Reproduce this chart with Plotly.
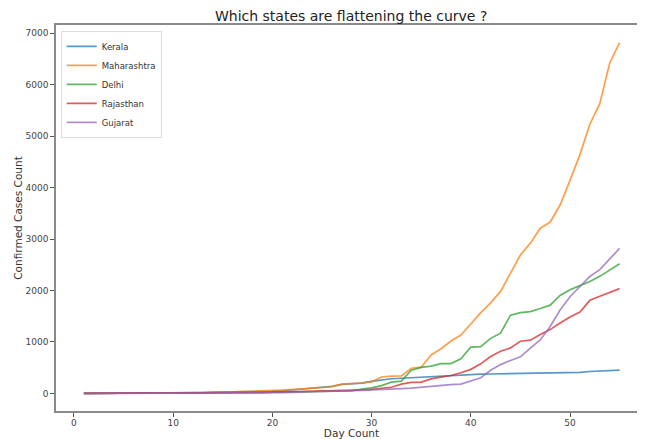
import plotly.graph_objects as go

days = list(range(1, 56))

kerala = [3, 3, 3, 3, 3, 3, 3, 3, 6, 9, 14, 17, 17, 19, 22, 24, 24, 25, 27, 40,
          52, 67, 95, 109, 118, 137, 176, 182, 202, 234, 265, 286, 295, 306, 314,
          327, 336, 345, 357, 368, 376, 378, 380, 386, 387, 394, 396, 399, 400, 403,
          410, 426, 438, 447, 452]

maharashtra = [0, 0, 0, 0, 0, 0, 0, 0, 0, 2, 5, 11, 14, 19, 32, 33, 39, 42, 47, 52,
               64, 74, 89, 112, 125, 130, 180, 186, 203, 225, 320, 335, 340, 490, 510,
               748, 868, 1018, 1135, 1350, 1570, 1760, 1982, 2337, 2690, 2920, 3210, 3330, 3660, 4140,
               4640, 5230, 5630, 6420, 6817]

delhi = [0, 1, 1, 1, 1, 2, 3, 3, 4, 4, 5, 6, 7, 7, 7, 8, 10, 12, 17, 26,
         27, 29, 30, 31, 35, 36, 39, 49, 87, 110, 152, 219, 240, 450, 505,
         530, 578, 580, 672, 900, 910, 1070, 1170, 1520, 1570, 1590, 1650, 1715, 1905, 2015,
         2095, 2175, 2275, 2405, 2518]

rajasthan = [0, 1, 1, 2, 2, 3, 3, 3, 3, 3, 3, 3, 3, 3, 4, 4, 7, 17, 17, 23,
             28, 32, 36, 38, 40, 41, 54, 55, 69, 79, 93, 120, 180, 215, 220,
             284, 316, 349, 401, 468, 575, 718, 820, 885, 1014, 1034, 1143, 1240, 1369, 1486,
             1583, 1809, 1887, 1964, 2036]

gujarat = [0, 0, 0, 0, 0, 0, 0, 0, 0, 0, 0, 0, 0, 0, 0, 0, 0, 0, 2, 5,
           14, 18, 29, 33, 38, 43, 44, 53, 58, 69, 73, 82, 95, 105, 122,
           144, 165, 172, 182, 241, 306, 450, 560, 640, 711, 880, 1040, 1300, 1620, 1880,
           2085, 2272, 2405, 2620, 2820]

states = ["Kerala", "Maharashtra", "Delhi", "Rajasthan", "Gujarat"]
series = [kerala, maharashtra, delhi, rajasthan, gujarat]
colors = ["#1f77b4", "#ff7f0e", "#2ca02c", "#d62728", "#9467bd"]

fig = go.Figure()
for name, vals, c in zip(states, series, colors):
    fig.add_trace(go.Scatter(
        x=days,
        y=vals,
        mode="lines",
        name=name,
        line=dict(color=c, width=1.7),
        opacity=0.75
    ))

axis_style = dict(
    automargin=False,
    showgrid=False,
    zeroline=False,
    showline=True,
    linecolor="#8a8a8a",
    linewidth=1.5,
    ticks="outside",
    ticklen=4,
    tickcolor="#555555",
    tickfont=dict(family="DejaVu Sans", size=9, color="#444444"),
)

# page body adds an 8px offset; the plot runs past the window edge like the cropped original
fig.update_layout(
    width=645,
    height=431,
    margin=dict(l=48, r=6, t=17, b=28),
    paper_bgcolor="white",
    plot_bgcolor="white",
    font=dict(family="DejaVu Sans", color="#333333"),
    title=dict(
        text="Which states are flattening the curve ?",
        x=0.532,
        xanchor="center",
        y=0.982,
        yanchor="middle",
        font=dict(size=14, color="#222222")
    ),
    xaxis=dict(
        range=[-1.81, 57.76],
        tickvals=[0, 10, 20, 30, 40, 50],
        mirror=True,
        ticklabelstandoff=-2,
        title=dict(text="Day Count", font=dict(size=10.5, color="#333333"), standoff=6),
        **axis_style
    ),
    # right spine is cut off in the original
    yaxis=dict(
        range=[-341, 7158],
        tickvals=[0, 1000, 2000, 3000, 4000, 5000, 6000, 7000],
        mirror=False,
        title=dict(text="Confirmed Cases Count", font=dict(size=10.5, color="#333333"), standoff=1),
        **axis_style
    ),
    legend=dict(
        x=0.008,
        y=0.985,
        xanchor="left",
        yanchor="top",
        bgcolor="rgba(255,255,255,0.8)",
        bordercolor="#dddddd",
        borderwidth=1,
        font=dict(family="DejaVu Sans", size=8.5, color="#333333"),
        itemwidth=30,
    ),
    showlegend=True,
)

fig.write_html("out.html", config={"displayModeBar": False})
